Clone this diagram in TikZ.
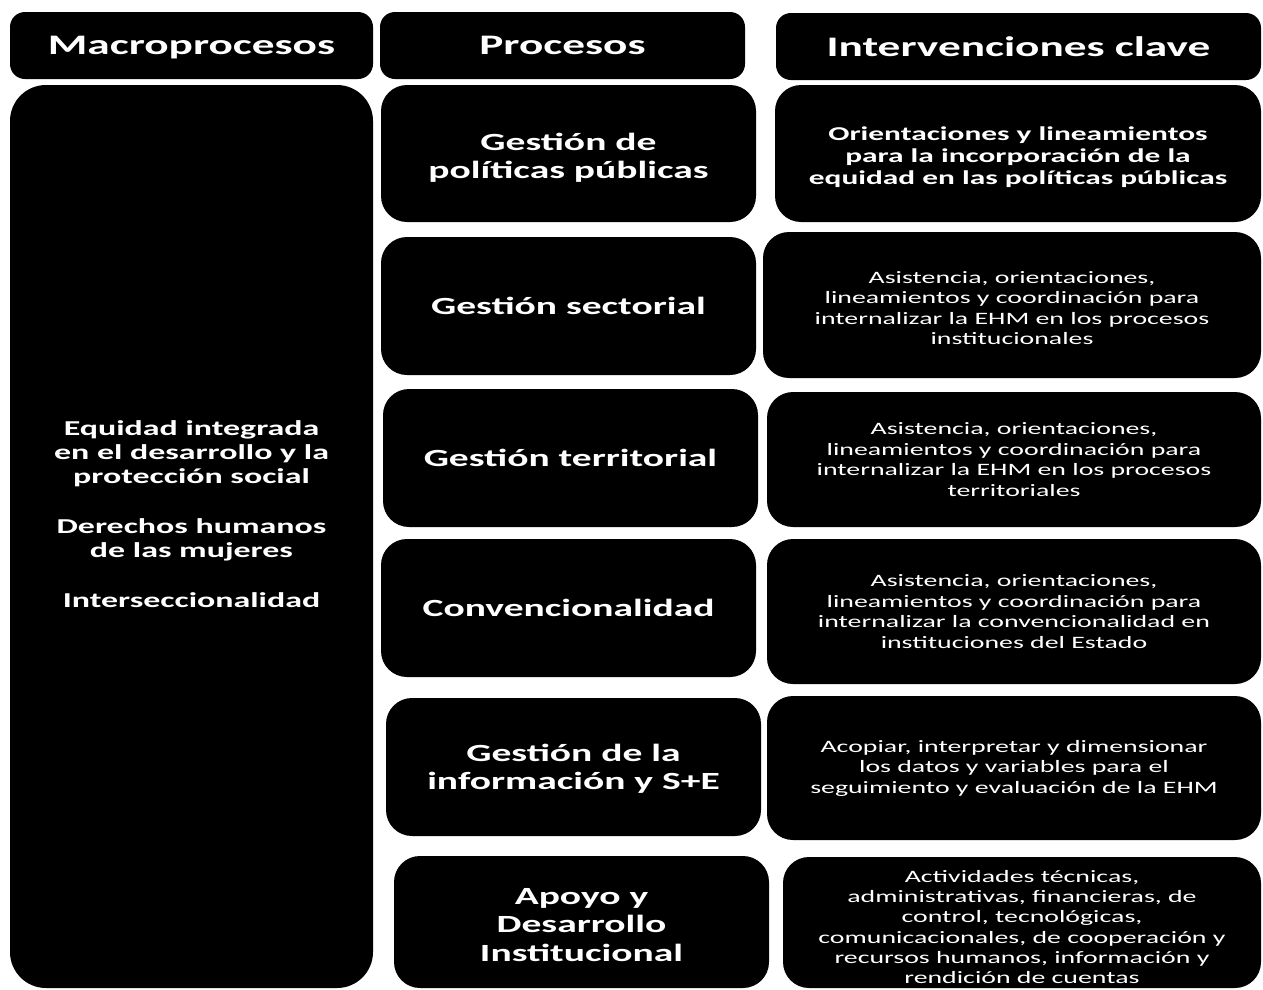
\documentclass[tikz,border=0pt]{standalone}
\usepackage{fontspec}
\setmainfont{Carlito}[FakeStretch=1.6]
\tikzset{
  blk/.style={fill=black, text=white, rounded corners=26pt, inner sep=0pt, align=center, anchor=center},
  hdr/.style={blk, rounded corners=15pt, text depth=0pt, font=\fontsize{28.3}{32}\selectfont\bfseries},
  proc/.style={blk, font=\fontsize{24.7}{28}\selectfont\bfseries},
  intb/.style={blk, font=\fontsize{19.6}{22}\selectfont\bfseries},
  intr/.style={blk, font=\fontsize{17.4}{20.5}\selectfont},
  lefttxt/.style={text=white, align=center, inner sep=0pt, font=\fontsize{21.2}{24}\selectfont\bfseries},
  ttxt/.style={text=white, align=center, inner sep=0pt},
}
\begin{document}
\begin{tikzpicture}[x=1pt,y=-1pt]
\useasboundingbox (0,0) rectangle (1263,989);
% headers
\node[hdr, minimum width=363pt, minimum height=67pt] (h1) at (191.5,45.5) {Macroprocesos};
\node[hdr, minimum width=365pt, minimum height=67pt] (h2) at (562.5,45.5) {Procesos};
\node[hdr, minimum width=485pt, minimum height=67pt] (h3) at (1018.5,46.5) {Intervenciones clave};
% left column
\node[blk, rounded corners=36pt, minimum width=363pt, minimum height=903pt] (L) at (191.5,536.5) {};
\node[lefttxt] (Ltxt) at (191.5,514) {Equidad integrada\\en el desarrollo y la\\protección social\\[26pt]Derechos humanos\\de las mujeres\\[26pt]Interseccionalidad};
% processes
\node[blk, minimum width=375pt, minimum height=137pt] (p1) at (568.5,153.5) {};
\node[ttxt, font=\fontsize{24.7}{28}\selectfont\bfseries] (p1t) at (568.5,158) {Gestión de\\políticas públicas};
\node[proc, minimum width=375pt, minimum height=138pt] (p2) at (568.5,306) {Gestión sectorial};
\node[proc, minimum width=375pt, minimum height=138pt] (p3) at (570.5,458) {Gestión territorial};
\node[proc, minimum width=375pt, minimum height=138pt] (p4) at (568.5,608) {Convencionalidad};
\node[blk, minimum width=375pt, minimum height=138pt] (p5) at (573.5,767) {};
\node[ttxt, font=\fontsize{24.7}{28}\selectfont\bfseries] (p5t) at (573.5,769) {Gestión de la\\información y S+E};
\node[blk, minimum width=375pt, minimum height=132pt] (p6) at (581.5,922) {};
\node[ttxt, font=\fontsize{24.7}{28.5}\selectfont\bfseries] (p6t) at (581.5,925) {Apoyo y\\Desarrollo\\Institucional};
% interventions
\node[blk, minimum width=486pt, minimum height=137pt] (i1) at (1018,153.5) {};
\node[ttxt, font=\fontsize{19.6}{22}\selectfont\bfseries] (i1t) at (1018,157.5) {Orientaciones y lineamientos\\para la incorporación de la\\equidad en las políticas públicas};
\node[blk, minimum width=498pt, minimum height=146pt] (i2) at (1012,305) {};
\node[ttxt, font=\fontsize{17.4}{20.5}\selectfont] (i2t) at (1012,308) {Asistencia, orientaciones,\\lineamientos y coordinación para\\internalizar la EHM en los procesos\\institucionales};
\node[intr, minimum width=494pt, minimum height=135pt] (i3) at (1014,459.5) {Asistencia, orientaciones,\\lineamientos y coordinación para\\internalizar la EHM en los procesos\\territoriales};
\node[intr, minimum width=494pt, minimum height=145pt] (i4) at (1014,611.5) {Asistencia, orientaciones,\\lineamientos y coordinación para\\internalizar la convencionalidad en\\instituciones del Estado};
\node[intr, minimum width=494pt, minimum height=144pt] (i5) at (1014,768) {Acopiar, interpretar y dimensionar\\los datos y variables para el\\seguimiento y evaluación de la EHM};
\node[blk, minimum width=478pt, minimum height=131pt] (i6) at (1022,922.5) {};
\node[ttxt, font=\fontsize{17.4}{20.2}\selectfont] (i6t) at (1022,927) {Actividades técnicas,\\administrativas, financieras, de\\control, tecnológicas,\\comunicacionales, de cooperación y\\recursos humanos, información y\\rendición de cuentas};
\end{tikzpicture}
\end{document}
